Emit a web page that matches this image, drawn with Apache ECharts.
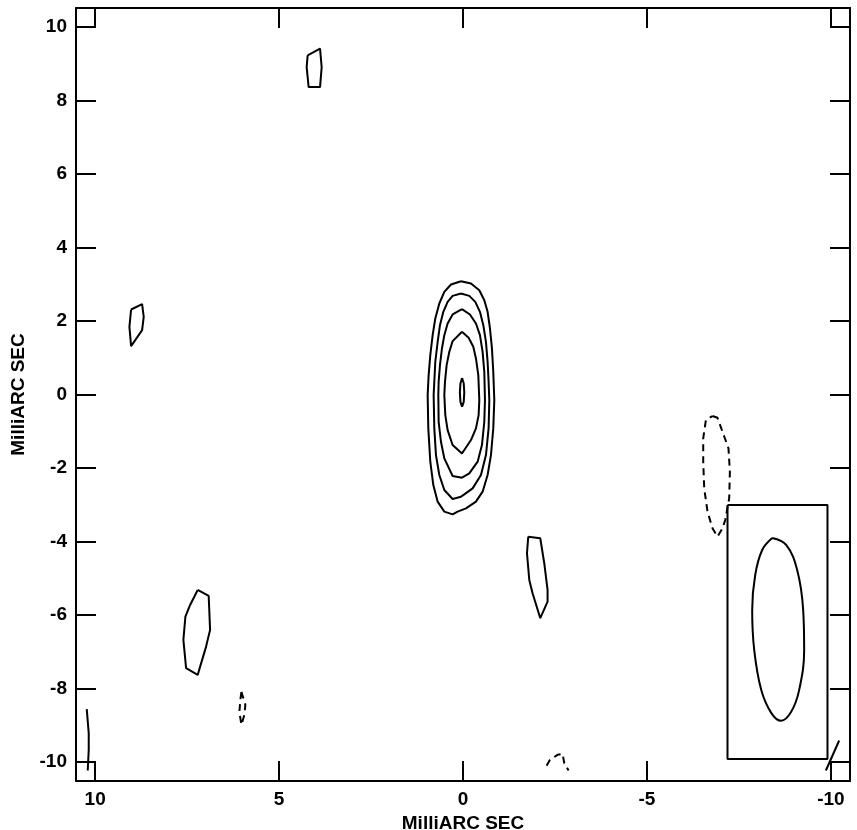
<!DOCTYPE html>
<html>
<head>
<meta charset="utf-8">
<script src="https://cdn.jsdelivr.net/npm/echarts@6/dist/echarts.min.js"></script>
<style>
  html, body { margin: 0; padding: 0; background: #fff; }
  #chart { width: 857px; height: 830px; }
</style>
</head>
<body>
<div id="chart"></div>
<script>
// axis ticks (milliarcsec)
const xTicks = [10, 5, 0, -5, -10];
const yTicks = [10, 8, 6, 4, 2, 0, -2, -4, -6, -8, -10];
const axisMin = -10.52;
const axisMax = 10.52;

// central source, outer -> inner
const peak1 = [[0.055,3.084],[-0.217,3.021],[-0.443,2.839],[-0.579,2.567],[-0.669,2.250],[-0.733,1.797],[-0.787,1.253],[-0.823,0.618],[-0.851,-0.152],[-0.823,-0.923],[-0.760,-1.648],[-0.669,-2.192],[-0.533,-2.645],[-0.352,-2.917],[-0.081,-3.098],[0.146,-3.189],[0.282,-3.262],[0.508,-3.189],[0.689,-2.917],[0.807,-2.464],[0.889,-1.829],[0.943,-0.923],[0.961,-0.016],[0.934,0.528],[0.889,1.072],[0.825,1.615],[0.753,2.069],[0.644,2.477],[0.508,2.794],[0.327,2.993],[0.055,3.084]];
const peak2 = [[0.055,2.749],[-0.171,2.685],[-0.334,2.522],[-0.461,2.250],[-0.552,1.887],[-0.624,1.434],[-0.669,0.890],[-0.696,0.346],[-0.715,-0.152],[-0.696,-0.923],[-0.624,-1.648],[-0.488,-2.192],[-0.262,-2.555],[-0.035,-2.718],[0.055,-2.781],[0.282,-2.845],[0.508,-2.600],[0.644,-2.192],[0.735,-1.648],[0.780,-0.923],[0.798,-0.016],[0.780,0.346],[0.753,0.890],[0.689,1.434],[0.626,1.887],[0.535,2.250],[0.418,2.522],[0.282,2.685],[0.055,2.749]];
const peak3 = [[0.028,2.323],[-0.189,2.178],[-0.352,1.933],[-0.461,1.615],[-0.533,1.162],[-0.579,0.618],[-0.597,-0.152],[-0.579,-0.742],[-0.515,-1.376],[-0.398,-1.829],[-0.171,-2.147],[0.028,-2.265],[0.282,-2.219],[0.508,-1.739],[0.599,-1.286],[0.662,-0.742],[0.671,-0.016],[0.662,0.346],[0.626,0.800],[0.572,1.253],[0.508,1.615],[0.418,1.933],[0.282,2.178],[0.028,2.323]];
const peak4 = [[0.028,1.706],[-0.153,1.543],[-0.280,1.298],[-0.352,0.981],[-0.416,0.528],[-0.443,-0.152],[-0.425,-0.560],[-0.352,-0.923],[-0.217,-1.240],[-0.035,-1.512],[0.028,-1.603],[0.282,-1.376],[0.418,-0.968],[0.481,-0.560],[0.508,-0.016],[0.490,0.346],[0.445,0.800],[0.372,1.162],[0.282,1.452],[0.028,1.706]];
const peak5 = [[0.025,0.45],[-0.02,0.3],[-0.035,0.05],[-0.02,-0.2],[0.025,-0.33],[0.07,-0.2],[0.085,0.05],[0.07,0.3],[0.025,0.45]];

// small isolated positive contours
const blobTop = [[4.223,9.231],[3.886,9.413],[3.842,8.912],[3.886,8.368],[4.196,8.368],[4.250,8.912],[4.223,9.231]];
const blobLeft = [[9.022,2.314],[8.723,2.459],[8.679,2.113],[8.723,1.751],[9.022,1.316],[9.068,1.841],[9.022,2.314]];
const blobSouth = [[-1.774,-3.870],[-2.101,-3.914],[-2.209,-4.593],[-2.299,-5.320],[-2.299,-5.638],[-2.101,-6.089],[-1.891,-5.409],[-1.802,-5.048],[-1.739,-4.322],[-1.774,-3.870]];
const blobSW = [[7.212,-5.320],[6.913,-5.483],[6.875,-6.407],[6.984,-6.862],[7.212,-7.631],[7.527,-7.449],[7.601,-6.679],[7.546,-6.046],[7.418,-5.728],[7.212,-5.320]];
const edgeLeft = [[10.228,-8.564],[10.174,-9.217],[10.174,-9.671],[10.201,-10.234]];
const edgeRight = [[-10.226,-9.418],[-9.864,-10.234]];

// negative (dashed) contours
const negEast = [[-6.783,-0.587],[-6.918,-0.634],[-7.054,-1.014],[-7.217,-1.466],[-7.255,-2.102],[-7.236,-2.826],[-7.128,-3.416],[-7.054,-3.642],[-6.918,-3.870],[-6.783,-3.642],[-6.647,-3.190],[-6.557,-2.554],[-6.530,-1.830],[-6.530,-1.194],[-6.603,-0.696],[-6.783,-0.587]];
const negSW = [[6.024,-8.094],[5.916,-8.447],[5.943,-8.719],[6.024,-8.991],[6.079,-8.638],[6.052,-8.311],[6.024,-8.094]];
const negBottom = [[-2.272,-10.106],[-2.364,-9.943],[-2.571,-9.807],[-2.707,-9.780],[-2.753,-10.033],[-2.870,-10.234]];

// restoring beam and its box
const beamBox = [[-7.190,-3.008],[-9.908,-3.008],[-9.908,-9.924],[-7.190,-9.924],[-7.190,-3.008]];
const beam = [[-8.405,-3.905],[-8.133,-4.232],[-7.943,-4.912],[-7.861,-5.864],[-7.916,-6.951],[-8.106,-8.039],[-8.378,-8.665],[-8.649,-8.882],[-8.921,-8.638],[-9.139,-8.039],[-9.274,-6.951],[-9.247,-5.864],[-9.084,-4.776],[-8.785,-4.096],[-8.405,-3.905]];

const chart = echarts.init(document.getElementById('chart'));

// 轮廓线
function contour(data, dashed, smooth) {
  return {
    type: 'line',
    data: data,
    symbol: 'none',
    smooth: smooth || false,
    silent: true,
    clip: false,
    lineStyle: { color: '#000', width: 2, type: dashed ? [7, 5] : 'solid' },
  };
}

const labelFont = { color: '#000', fontFamily: 'Liberation Sans', fontWeight: 'bold', fontSize: 19 };

function frameAxis(pos, ticks, isX, main) {
  return {
    type: 'value',
    position: pos,
    min: axisMin,
    max: axisMax,
    inverse: isX,
    name: main ? 'MilliARC SEC' : '',
    nameLocation: 'middle',
    nameGap: isX ? 23 : 48,
    nameTextStyle: labelFont,
    splitLine: { show: false },
    axisLine: { show: true, onZero: false, lineStyle: { color: '#000', width: 2 } },
    axisTick: { show: true, inside: true, length: 20, customValues: ticks, lineStyle: { color: '#000', width: 2 } },
    axisLabel: Object.assign({ show: main, margin: 9, customValues: ticks }, labelFont),
  };
}

const option = {
  animation: false,
  backgroundColor: '#fff',
  grid: { left: 76, right: 7, top: 8, bottom: 49, containLabel: false, outerBoundsMode: 'none' },
  xAxis: [frameAxis('bottom', xTicks, true, true), frameAxis('top', xTicks, true, false)],
  yAxis: [frameAxis('left', yTicks, false, true), frameAxis('right', yTicks, false, false)],
  series: [
    contour(peak1), contour(peak2), contour(peak3), contour(peak4), contour(peak5),
    contour(blobTop), contour(blobLeft), contour(blobSouth), contour(blobSW),
    contour(edgeLeft), contour(edgeRight),
    contour(negEast, true), contour(negSW, true), contour(negBottom, true),
    contour(beamBox), contour(beam, false, 0.4),
  ],
};

chart.setOption(option);
window.addEventListener('resize', () => {
  chart.resize();
});
</script>
</body>
</html>
